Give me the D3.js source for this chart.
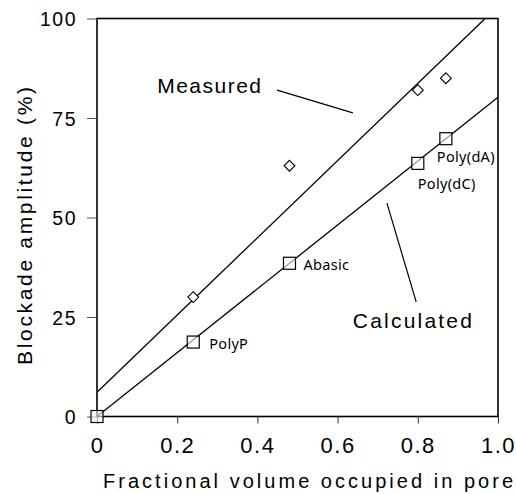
<!DOCTYPE html>
<html><head><meta charset="utf-8">
<script src="https://cdn.jsdelivr.net/npm/d3@7"></script>
<style>body{margin:0;background:#fff}svg{display:block}</style>
</head><body>
<svg id="c" width="516" height="494"></svg>
<script>
// Data
const xTicks = [0, 0.2, 0.4, 0.6, 0.8, 1.0];
const xTickLabels = ["0", "0.2", "0.4", "0.6", "0.8", "1.0"];
const yTicks = [0, 25, 50, 75, 100];
const measuredX = [0.24, 0.48, 0.80, 0.87];
const measuredY = [30, 63, 82, 85];
const calcX = [0, 0.24, 0.48, 0.80, 0.87];
const calcY = [0, 18.7, 38.5, 63.6, 69.8];
const calcLabels = ["", "PolyP", "Abasic", "Poly(dC)", "Poly(dA)"];
const measuredFit = [[0, 6.1], [0.968, 100]];
const calcFit = [[0, 0], [1, 80.2]];

const svg = d3.select("#c");
const x = d3.scaleLinear().domain([0, 1]).range([97, 498]);
const y = d3.scaleLinear().domain([0, 100]).range([416.5, 18.5]);
const F = "'Liberation Sans', Arial, sans-serif";

// frame
svg.append("rect").attr("x", x(0)).attr("y", y(100)).attr("width", x(1) - x(0)).attr("height", y(0) - y(100))
  .attr("fill", "none").attr("stroke", "#000").attr("stroke-width", 1.6);

// y axis
const ya = svg.append("g").attr("transform", `translate(${x(0)},0)`)
  .call(d3.axisLeft(y).tickValues(yTicks).tickSize(10).tickPadding(10).tickFormat(d3.format("d")));
ya.select(".domain").remove();
ya.selectAll(".tick line").attr("stroke", "#555").attr("stroke-width", 1);
ya.selectAll(".tick text").attr("font-family", F).attr("font-size", 19.5).attr("letter-spacing", 1.5)
  .attr("fill", "#000").attr("dy", "0.36em");

// x axis
const xa = svg.append("g").attr("transform", `translate(0,${y(0)})`)
  .call(d3.axisBottom(x).tickValues(xTicks).tickSize(7).tickPadding(14).tickFormat((d, i) => xTickLabels[i]));
xa.select(".domain").remove();
xa.selectAll(".tick line").attr("stroke", "#333").attr("stroke-width", 1);
xa.selectAll(".tick text").attr("font-family", F).attr("font-size", 22).attr("letter-spacing", 1.5)
  .attr("fill", "#000");

// fit lines
const line = d3.line().x(d => x(d[0])).y(d => y(d[1]));
[measuredFit, calcFit].forEach(p => svg.append("path").attr("d", line(p)).attr("fill", "none")
  .attr("stroke", "#000").attr("stroke-width", 1.3));

// leaders
const leaders = [[[0.449, 82.0], [0.638, 76.3]], [[0.723, 53.6], [0.796, 28.8]]];
leaders.forEach(p => svg.append("path").attr("d", line(p)).attr("fill", "none")
  .attr("stroke", "#000").attr("stroke-width", 1.2));

// measured diamonds
svg.selectAll(".dm").data(measuredX).enter().append("path")
  .attr("d", d3.symbol().type(d3.symbolDiamond2).size(75))
  .attr("transform", (d, i) => `translate(${x(d)},${y(measuredY[i])})`)
  .attr("fill", "#fff").attr("stroke", "#000").attr("stroke-width", 1.1);

// calculated squares
const calcPts = calcX.map((d, i) => ({x: d, y: calcY[i], label: calcLabels[i]}));
svg.selectAll(".sq").data(calcPts).enter().append("rect")
  .attr("x", d => x(d.x) - 6).attr("y", d => y(d.y) - 6).attr("width", 12).attr("height", 12)
  .attr("fill", "#fff").attr("fill-opacity", 0.6).attr("stroke", "#000").attr("stroke-width", 1.2);

// point labels
const lblOff = {"PolyP": [16, 7], "Abasic": [14, 7], "Poly(dC)": [0, 26], "Poly(dA)": [-9, 23]};
svg.selectAll(".pl").data(calcPts.filter(d => d.label !== "")).enter().append("text")
  .attr("x", d => x(d.x) + lblOff[d.label][0])
  .attr("y", d => y(d.y) + lblOff[d.label][1])
  .attr("font-family", "'Noto Sans', sans-serif").attr("font-size", 14.5).attr("letter-spacing", 0.3)
  .attr("fill", "#000")
  .text(d => d.label);

// series labels
svg.append("text").attr("x", x(0.150)).attr("y", y(81.3)).attr("font-family", F).attr("font-size", 21)
  .attr("letter-spacing", 1.5).text("Measured");
svg.append("text").attr("x", x(0.638)).attr("y", y(22.2)).attr("font-family", F).attr("font-size", 21)
  .attr("letter-spacing", 2.2).text("Calculated");

// axis titles
svg.append("text").attr("x", 103).attr("y", 488).attr("font-family", F).attr("font-size", 20)
  .attr("textLength", 410).attr("lengthAdjust", "spacing").text("Fractional volume occupied in pore");
svg.append("text").attr("transform", "translate(32,226) rotate(-90)").attr("text-anchor", "middle")
  .attr("font-family", F).attr("font-size", 21)
  .attr("textLength", 278).attr("lengthAdjust", "spacing").text("Blockade amplitude (%)");
</script>
</body></html>
